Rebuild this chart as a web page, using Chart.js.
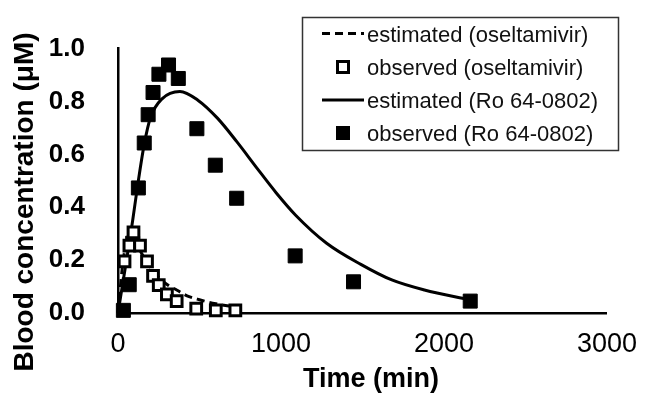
<!DOCTYPE html>
<html>
<head>
<meta charset="utf-8">
<script src="https://cdn.jsdelivr.net/npm/chart.js@4.4.1/dist/chart.umd.min.js"></script>
<style>
html,body{margin:0;padding:0;background:#fff;}
#wrap{width:652px;height:394px;position:relative;}
</style>
</head>
<body>
<div id="wrap"><canvas id="c" width="652" height="394"></canvas></div>
<script>
// ---- data ----
const timeOsObs = [40, 70, 95, 135, 178, 215, 250, 300, 360, 480, 600, 720];
const concOsObs = [0.195, 0.255, 0.305, 0.255, 0.195, 0.14, 0.105, 0.07, 0.045, 0.017, 0.01, 0.01];

const timeRoObs = [33, 69, 90, 125, 161, 185, 215, 251, 310, 370, 484, 597, 728, 1087, 1445, 2161];
const concRoObs = [0.01, 0.107, 0.264, 0.473, 0.643, 0.75, 0.834, 0.903, 0.938, 0.887, 0.697, 0.559, 0.434, 0.216, 0.118, 0.045];

const timeRoEst = [0, 30, 60, 90, 120, 160, 200, 270, 380, 490, 610, 730, 850, 970, 1090, 1280, 1490, 1680, 1880, 2160];
const concRoEst = [0, 0.115, 0.23, 0.35, 0.48, 0.635, 0.74, 0.81, 0.838, 0.805, 0.737, 0.647, 0.55, 0.455, 0.37, 0.264, 0.184, 0.125, 0.087, 0.05];

const timeOsEst = [0, 15, 30, 50, 75, 100, 150, 200, 250, 310, 360, 420, 500, 600, 720];
const concOsEst = [0, 0.1, 0.19, 0.26, 0.28, 0.27, 0.22, 0.17, 0.135, 0.104, 0.087, 0.066, 0.05, 0.035, 0.022];

const xTicks = [0, 1000, 2000, 3000];
const yTicks = [0.0, 0.2, 0.4, 0.6, 0.8, 1.0];

const xTitle = 'Time (min)';
const yTitle = 'Blood concentration (\u03BCM)';
const legendLabels = ['estimated (oseltamivir)', 'observed (oseltamivir)', 'estimated (Ro 64-0802)', 'observed (Ro 64-0802)'];

function zip(xs, ys){ return xs.map((x,i)=>({x:x, y:ys[i]})); }

const FONT = '"Liberation Sans", Arial, "Noto Sans", sans-serif';

const customPlugin = {
  id: 'custom',
  afterDraw(chart){
    const ctx = chart.ctx;
    ctx.save();
    // axis titles
    ctx.fillStyle = '#000';
    ctx.font = 'bold 27px ' + FONT;
    ctx.textAlign = 'center';
    ctx.textBaseline = 'alphabetic';
    ctx.fillText(xTitle, 371, 387);
    ctx.save();
    ctx.translate(33, 202);
    ctx.rotate(-Math.PI/2);
    ctx.font = 'bold 28px ' + FONT;
    ctx.fillText(yTitle, 0, 0);
    ctx.restore();

    // legend box
    ctx.strokeStyle = '#333';
    ctx.lineWidth = 1.5;
    ctx.strokeRect(302.5, 17.5, 316, 133);
    const rows = [41.5, 74.5, 107.5, 140.5];
    const mid = [33.5, 67, 100, 133];
    ctx.font = '22px ' + FONT;
    ctx.textAlign = 'left';
    ctx.fillStyle = '#111';
    legendLabels.forEach((t,i)=>ctx.fillText(t, 367, rows[i]));
    // samples
    ctx.strokeStyle = '#000';
    ctx.lineWidth = 3;
    ctx.setLineDash([8,5]);
    ctx.beginPath(); ctx.moveTo(322, mid[0]); ctx.lineTo(364, mid[0]); ctx.stroke();
    ctx.setLineDash([]);
    ctx.beginPath(); ctx.moveTo(322, mid[2]); ctx.lineTo(364, mid[2]); ctx.stroke();
    ctx.lineWidth = 3;
    ctx.fillStyle = '#fff';
    ctx.fillRect(337.5, mid[1]-5.5, 11, 11);
    ctx.strokeRect(337.5, mid[1]-5.5, 11, 11);
    ctx.fillStyle = '#000';
    ctx.fillRect(336, mid[3]-7, 14, 14);
    ctx.restore();
  }
};

new Chart(document.getElementById('c'), {
  type: 'scatter',
  data: {
    datasets: [
      { label: legendLabels[1], data: zip(timeOsObs, concOsObs), showLine: false,
        pointStyle: 'rect', pointRadius: 7.6, pointHoverRadius: 7.6, borderWidth: 3,
        borderColor: '#000', backgroundColor: '#fff', clip: false },
      { label: legendLabels[3], data: zip(timeRoObs, concRoObs), showLine: false,
        pointStyle: 'rect', pointRadius: 9.9, pointHoverRadius: 9.9, borderWidth: 1,
        borderColor: '#000', backgroundColor: '#000', clip: false },
      { label: legendLabels[2], data: zip(timeRoEst, concRoEst), showLine: true,
        pointRadius: 0, borderWidth: 3, borderColor: '#000', fill: false,
        cubicInterpolationMode: 'monotone', clip: false },
      { label: legendLabels[0], data: zip(timeOsEst, concOsEst), showLine: true,
        pointRadius: 0, borderWidth: 3, borderColor: '#000', borderDash: [8,5], fill: false,
        cubicInterpolationMode: 'monotone', clip: false }
    ]
  },
  options: {
    responsive: false,
    animation: false,
    events: [],
    layout: { padding: { top: 25, right: 32, left: 0, bottom: 0 } },
    plugins: { legend: { display: false }, tooltip: { enabled: false }, title: { display: false } },
    scales: {
      x: {
        type: 'linear', min: 0, max: 3000,
        afterFit(s){ s.height = 81; },
        afterBuildTicks(s){ s.ticks = xTicks.map(v=>({value:v})); },
        grid: { display: false, drawTicks: false },
        border: { display: true, color: '#000', width: 2.5 },
        ticks: { color: '#000', padding: 15, maxRotation: 0, autoSkip: false,
          font: { family: FONT, size: 27 },
          callback: v => String(v) }
      },
      y: {
        type: 'linear', min: 0, max: 1,
        afterFit(s){ s.width = 118; },
        afterBuildTicks(s){ s.ticks = yTicks.map(v=>({value:v})); },
        grid: { display: false, drawTicks: false },
        border: { display: true, color: '#000', width: 2.5 },
        ticks: { color: '#000', padding: 33, autoSkip: false,
          font: { family: FONT, size: 26, weight: 'bold' },
          callback: v => Number(v).toFixed(1) }
      }
    }
  },
  plugins: [customPlugin]
});
</script>
</body>
</html>
